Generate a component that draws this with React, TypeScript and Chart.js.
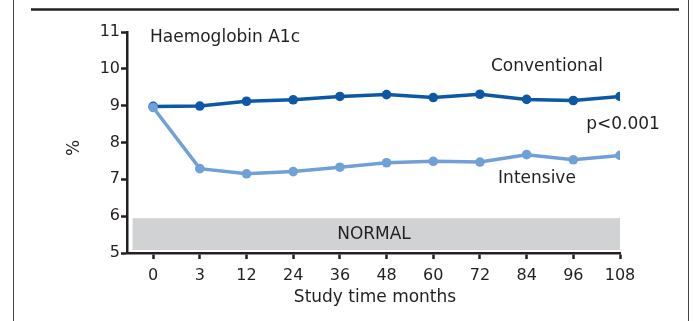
import React, { useEffect, useRef } from "react";
import { Chart, registerables } from "chart.js";

Chart.register(...registerables);

const months = ["0", "3", "12", "24", "36", "48", "60", "72", "84", "96", "108"];
const conventional = [8.98, 8.99, 9.12, 9.16, 9.25, 9.3, 9.22, 9.31, 9.17, 9.14, 9.25];
const intensive = [8.95, 7.29, 7.15, 7.21, 7.33, 7.45, 7.49, 7.47, 7.67, 7.53, 7.65];
const yTicks = [5, 6, 7, 8, 9, 10, 11];
const normalRange = [5, 6];

const INK = "#231f20";
const DARK = "rgb(12,88,166)";
const LIGHT = "rgb(112,160,216)";
const FONT = "'DejaVu Sans', sans-serif";

const decorPlugin = {
  id: "decor",
  beforeDatasetsDraw(chart: any) {
    const { ctx, scales } = chart;
    const x = scales.x;
    const y = scales.y;
    const left = x.getPixelForValue(-0.44);
    const right = x.getPixelForValue(months.length - 1);
    const top = y.getPixelForValue(normalRange[1]) + 2;
    const bottom = y.getPixelForValue(normalRange[0]) - 3;
    ctx.save();
    ctx.fillStyle = "#d1d2d4";
    ctx.fillRect(left, top, right - left, bottom - top);
    ctx.fillStyle = INK;
    ctx.font = `17px ${FONT}`;
    ctx.textAlign = "center";
    ctx.textBaseline = "middle";
    ctx.fillText("NORMAL", 374, (top + bottom) / 2);
    ctx.restore();
  },
  afterDraw(chart: any) {
    const { ctx } = chart;
    ctx.save();
    // frame
    ctx.strokeStyle = "#444";
    ctx.lineWidth = 1;
    ctx.beginPath();
    ctx.moveTo(13.5, 0);
    ctx.lineTo(13.5, 321);
    ctx.moveTo(688.5, 0);
    ctx.lineTo(688.5, 321);
    ctx.stroke();
    ctx.strokeStyle = INK;
    ctx.lineWidth = 2.5;
    ctx.beginPath();
    ctx.moveTo(31, 9.5);
    ctx.lineTo(679, 9.5);
    ctx.stroke();
    // texts
    ctx.fillStyle = INK;
    ctx.font = `17px ${FONT}`;
    ctx.textBaseline = "middle";
    ctx.textAlign = "left";
    ctx.fillText("Haemoglobin A1c", 150, 38);
    ctx.textAlign = "center";
    ctx.fillText("Conventional", 547, 67);
    ctx.fillText("p<0.001", 623, 125);
    ctx.fillText("Intensive", 537, 179);
    ctx.fillText("Study time months", 375, 298);
    ctx.save();
    ctx.translate(75, 148);
    ctx.rotate(-Math.PI / 2);
    ctx.fillText("%", 0, 0);
    ctx.restore();
    ctx.restore();
  },
};

export default function App() {
  const ref = useRef<HTMLCanvasElement>(null);
  useEffect(() => {
    if (!ref.current) return;
    const chart = new Chart(ref.current, {
      type: "line",
      data: {
        datasets: [
          {
            label: "Intensive",
            data: intensive.map((v, i) => ({ x: i, y: v })),
            borderColor: LIGHT,
            backgroundColor: LIGHT,
            pointBackgroundColor: LIGHT,
            pointBorderColor: LIGHT,
            borderWidth: 3.5,
            pointRadius: 4.8,
            pointBorderWidth: 0,
            tension: 0,
          },
          {
            label: "Conventional",
            data: conventional.map((v, i) => ({ x: i, y: v })),
            borderColor: DARK,
            backgroundColor: DARK,
            pointBackgroundColor: DARK,
            pointBorderColor: DARK,
            borderWidth: 3.5,
            pointRadius: 4.8,
            pointBorderWidth: 0,
            tension: 0,
          },
        ],
      },
      options: {
        responsive: false,
        animation: false,
        layout: { padding: { left: 0, right: 73, top: 32, bottom: 0 } },
        plugins: { legend: { display: false }, tooltip: { enabled: false } },
        scales: {
          x: {
            type: "linear",
            min: -0.56,
            max: months.length - 1,
            afterBuildTicks: (s: any) => {
              s.ticks = months.map((_, i) => ({ value: i }));
            },
            afterFit: (s: any) => {
              s.height = 68;
            },
            ticks: {
              callback: (v: any) => months[v],
              color: INK,
              font: { size: 16, family: FONT },
              padding: 7,
              maxRotation: 0,
              autoSkip: false,
            },
            grid: {
              drawOnChartArea: false,
              drawTicks: true,
              tickLength: 6,
              tickWidth: 2.5,
              tickColor: INK,
            },
            border: { color: INK, width: 2.5 },
          },
          y: {
            type: "linear",
            min: yTicks[0],
            max: yTicks[yTicks.length - 1],
            afterBuildTicks: (s: any) => {
              s.ticks = yTicks.map((v) => ({ value: v }));
            },
            afterFit: (s: any) => {
              s.width = 127;
            },
            ticks: {
              color: INK,
              font: { size: 16, family: FONT },
              padding: 1,
            },
            grid: {
              drawOnChartArea: false,
              drawTicks: true,
              tickLength: 6,
              tickWidth: 2.5,
              tickColor: INK,
            },
            border: { color: INK, width: 2.5 },
          },
        },
      },
      plugins: [decorPlugin],
    } as any);
    return () => chart.destroy();
  }, []);
  return (
    <div style={{ position: "absolute", left: 0, top: 0, width: 693, height: 321, background: "#fff" }}>
      <canvas ref={ref} width={693} height={321} style={{ display: "block" }} />
    </div>
  );
}
